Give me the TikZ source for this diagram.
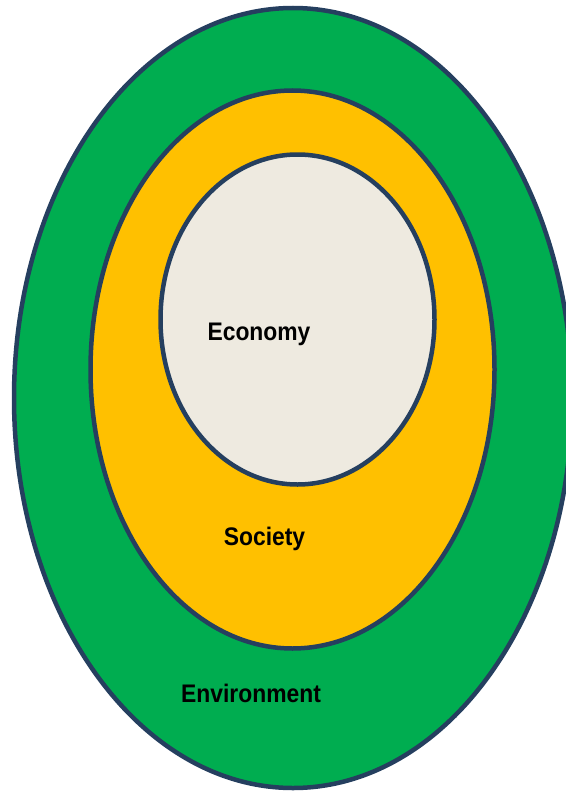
\documentclass[tikz,border=0pt]{standalone}
\usepackage{fontspec}
\newfontfamily\ringfont[FakeStretch=0.9]{Liberation Sans}
\definecolor{envgreen}{HTML}{00AD50}
\definecolor{socyellow}{HTML}{FFC000}
\definecolor{ecobeige}{HTML}{EEEAE0}
\definecolor{ringline}{HTML}{253F5F}
\tikzset{x=1bp,y=-1bp,
        ring/.style={draw=ringline,line width=4.5bp},
        ringlabel/.style={font=\ringfont\bfseries\fontsize{25.5}{28}\selectfont,text=black,inner sep=0pt}
        }

\begin{document}
\begin{tikzpicture}
    \useasboundingbox (0,0) rectangle (566,792);
    \clip (0,0) rectangle (566,792);
    % three nested rings
    \filldraw[ring,fill=envgreen] (293,398) ellipse [x radius=279,y radius=390];
    \filldraw[ring,fill=socyellow] (292.5,369.5) ellipse [x radius=202,y radius=279];
    \filldraw[ring,fill=ecobeige] (297.5,319.5) ellipse [x radius=137,y radius=165];
    % labels
    \node[ringlabel] (economy) at (259,334) {Economy};
    \node[ringlabel] (society) at (264.5,539) {Society};
    \node[ringlabel] (environment) at (251,693) {Environment};
\end{tikzpicture}
\end{document}
